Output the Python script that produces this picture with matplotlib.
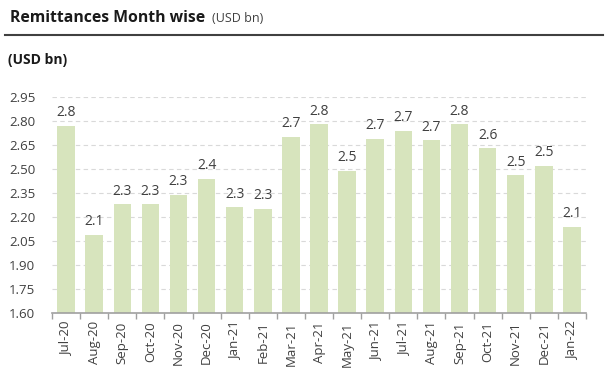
import matplotlib
matplotlib.use("Agg")
import matplotlib.pyplot as plt
from matplotlib.lines import Line2D

months = ["Jul-20", "Aug-20", "Sep-20", "Oct-20", "Nov-20", "Dec-20", "Jan-21", "Feb-21",
          "Mar-21", "Apr-21", "May-21", "Jun-21", "Jul-21", "Aug-21", "Sep-21", "Oct-21",
          "Nov-21", "Dec-21", "Jan-22"]
values = [2.77, 2.09, 2.28, 2.28, 2.34, 2.44, 2.26, 2.25, 2.70, 2.78, 2.49, 2.69,
          2.74, 2.68, 2.78, 2.63, 2.46, 2.52, 2.14]
labels = ["2.8", "2.1", "2.3", "2.3", "2.3", "2.4", "2.3", "2.3", "2.7", "2.8", "2.5", "2.7",
          "2.7", "2.7", "2.8", "2.6", "2.5", "2.5", "2.1"]
yticks = [1.60, 1.75, 1.90, 2.05, 2.20, 2.35, 2.50, 2.65, 2.80, 2.95]

plt.rcParams['font.family'] = ['Open Sans', 'DejaVu Sans']
txt = "#404040"

W, H = 608, 380
fig = plt.figure(figsize=(W / 100, H / 100), dpi=100)
fig.patch.set_facecolor("white")

ax = fig.add_axes([52 / W, 1 - 313 / H, (586 - 52) / W, (313 - 97) / H])
x = list(range(len(months)))
ax.bar(x, values, width=0.62, color="#d7e4bd", zorder=2)
ax.set_ylim(1.60, 2.95)
ax.set_xlim(-0.5, len(months) - 0.5)
ax.set_yticks(yticks)
ax.set_yticklabels([f"{t:.2f}" for t in yticks], fontsize=9.5, color=txt)
ax.tick_params(axis="y", length=0, pad=12)
ax.set_xticks(x)
ax.set_xticklabels(months, rotation=90, fontsize=9.5, color=txt)
ax.tick_params(axis="x", length=0, pad=6)
ax.set_xticks([i - 0.5 for i in range(len(months) + 1)], minor=True)
ax.tick_params(axis="x", which="minor", length=4, color="#a0a0a0", width=1)
for s in ["top", "right", "left"]:
    ax.spines[s].set_visible(False)
ax.spines["bottom"].set_color("#a0a0a0")
ax.spines["bottom"].set_linewidth(1.2)
ax.yaxis.grid(True, linestyle=(0, (4, 3)), color="#d9d9d9", linewidth=0.8, zorder=0)
ax.set_axisbelow(True)

for xi, v, lab in zip(x, values, labels):
    ax.annotate(lab, (xi, v), xytext=(0, 4), textcoords="offset points",
                ha="center", va="bottom", fontsize=10, color=txt)

fig.text(10 / W, 1 - 18 / H, "Remittances Month wise", fontsize=11.3, fontweight="bold",
         color="#1a1a1a", va="center", ha="left")
fig.text(212 / W, 1 - 19 / H, "(USD bn)", fontsize=9, color="#404040", va="center", ha="left")
fig.add_artist(Line2D([5 / W, 603 / W], [1 - 35 / H, 1 - 35 / H], color="#404040",
                      linewidth=1.5, transform=fig.transFigure))
fig.text(8 / W, 1 - 60 / H, "(USD bn)", fontsize=10, fontweight="bold", color="#1a1a1a",
         va="center", ha="left")

fig.savefig("out.png", dpi=100, facecolor="white")
